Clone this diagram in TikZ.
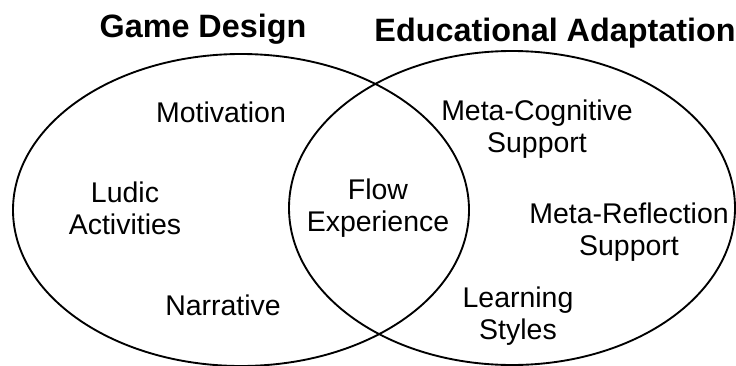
\documentclass[tikz,border=0pt]{standalone}
\usepackage{fontspec}
\setmainfont{Liberation Sans}
\usepackage{tikz}

\tikzset{
  label/.style={align=center, font=\fontsize{24.3}{27.3}\selectfont, inner sep=0pt},
  title/.style={font=\fontsize{27.6}{31}\selectfont\bfseries, inner sep=0pt}
}

\begin{document}
\begin{tikzpicture}[x=0.03cm,y=-0.03cm]
\useasboundingbox (0,0) rectangle (736,365);
\draw[line width=1.6pt] (241,210) ellipse (228 and 156);
\draw[line width=1.6pt] (512,208) ellipse (223 and 157);
\node[title] (gd) at (203,29) {Game Design};
\node[title] (ea) at (555,33) {Educational Adaptation};
\node[label] (mot) at (221,112) {Motivation};
\node[label] (lud) at (125,208) {Ludic\\Activities};
\node[label] (nar) at (223,305) {Narrative};
\node[label] (flow) at (378,208) {Flow\\Experience};
\node[label] (mcs) at (537,129) {Meta-Cognitive\\Support};
\node[label] (mrs) at (629,232) {Meta-Reflection\\Support};
\node[label] (ls) at (518,316) {Learning\\Styles};
\end{tikzpicture}
\end{document}
